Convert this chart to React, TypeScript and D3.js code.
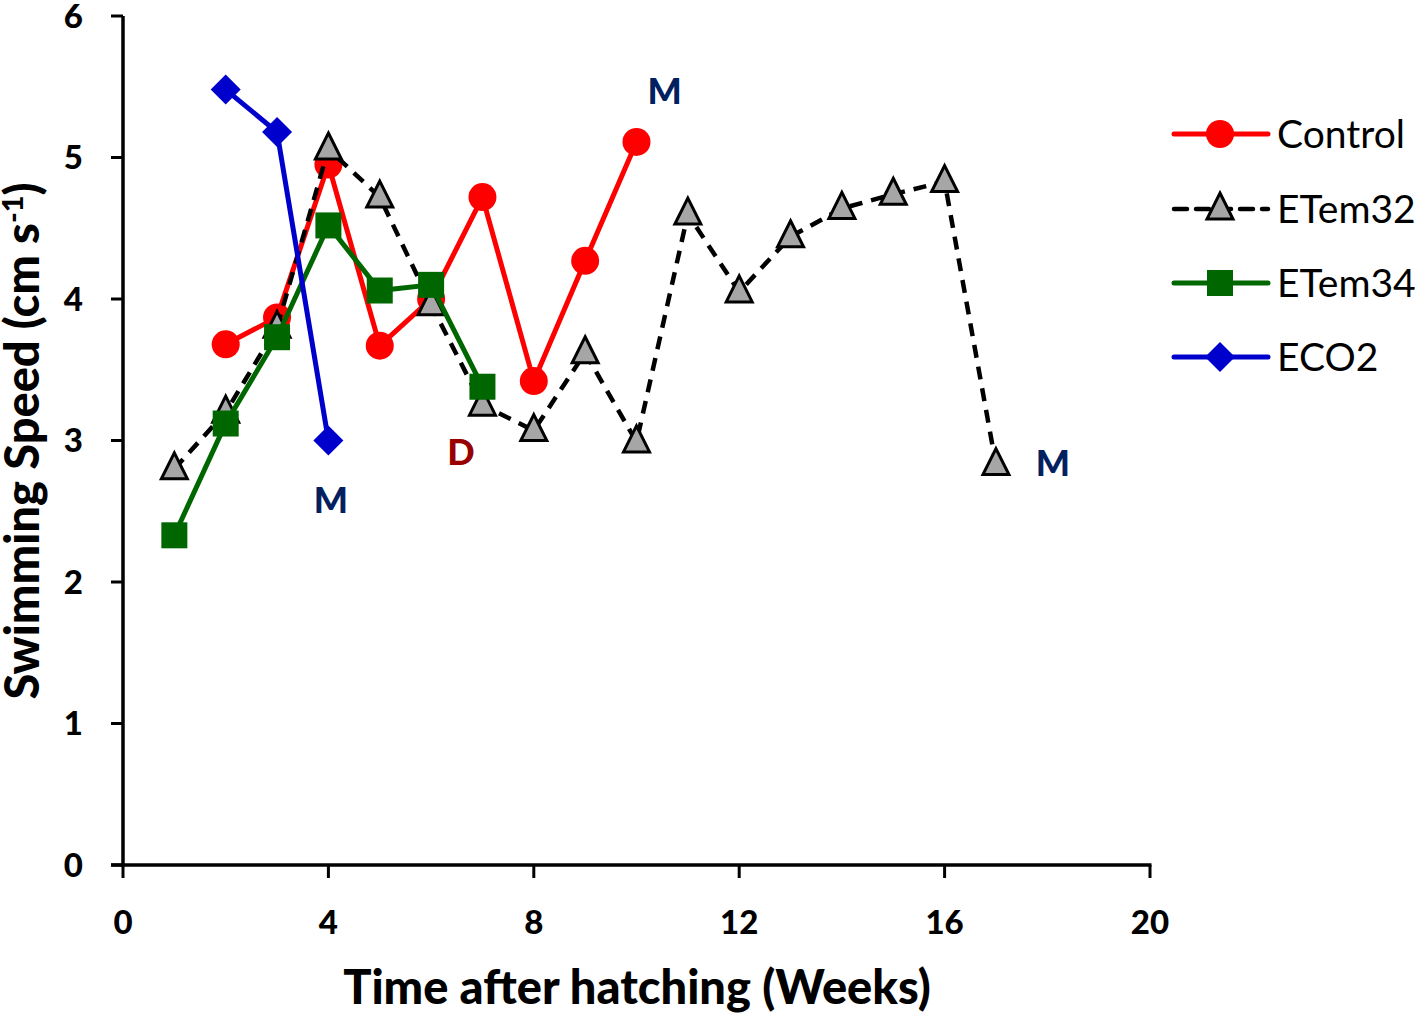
import React from "react";
import * as d3 from "d3";

const weeksControl = [2, 3, 4, 5, 6, 7, 8, 9, 10];
const speedControl = [3.68, 3.87, 4.95, 3.67, 4.0, 4.72, 3.42, 4.27, 5.11];
const weeksETem32 = [1, 2, 3, 4, 5, 6, 7, 8, 9, 10, 11, 12, 13, 14, 15, 16, 17];
const speedETem32 = [2.8, 3.2, 3.8, 5.06, 4.72, 3.96, 3.25, 3.07, 3.62, 2.99, 4.6, 4.05, 4.44, 4.64, 4.74, 4.83, 2.83];
const weeksETem34 = [1, 2, 3, 4, 5, 6, 7];
const speedETem34 = [2.33, 3.12, 3.73, 4.52, 4.06, 4.1, 3.38];
const weeksECO2 = [2, 3, 4];
const speedECO2 = [5.48, 5.18, 3.0];
const xTicks = [0, 4, 8, 12, 16, 20];
const yTicks = [0, 1, 2, 3, 4, 5, 6];
const annotations = [
  { text: "M", x: 4.05, y: 2.49, color: "#002060" },
  { text: "D", x: 6.58, y: 2.83, color: "#990000" },
  { text: "M", x: 10.55, y: 5.38, color: "#002060" },
  { text: "M", x: 18.11, y: 2.75, color: "#002060" },
];

const FONT = "Lato, 'Open Sans', sans-serif";

type Series = { name: string; xs: number[]; ys: number[]; color: string; marker: string; dash?: string };

const series: Series[] = [
  { name: "Control", xs: weeksControl, ys: speedControl, color: "#FF0000", marker: "circle" },
  { name: "ETem32", xs: weeksETem32, ys: speedETem32, color: "#000000", marker: "triangle", dash: "13,9" },
  { name: "ETem34", xs: weeksETem34, ys: speedETem34, color: "#006600", marker: "square" },
  { name: "ECO2", xs: weeksECO2, ys: speedECO2, color: "#0000CC", marker: "diamond" },
];

function Marker({ type, x, y }: { type: string; x: number; y: number }) {
  if (type === "circle") return <circle cx={x} cy={y} r={14} fill="#FF0000" />;
  if (type === "square") return <rect x={x - 13} y={y - 13} width={26} height={26} fill="#006600" />;
  if (type === "diamond")
    return <path d={`M${x},${y - 15}L${x + 15},${y}L${x},${y + 15}L${x - 15},${y}Z`} fill="#0000CC" />;
  return (
    <path
      d={`M${x},${y - 16}L${x + 13},${y + 10}L${x - 13},${y + 10}Z`}
      fill="#A6A6A6"
      stroke="#000"
      strokeWidth={3}
      strokeLinejoin="miter"
    />
  );
}

export default function App() {
  const W = 1418, H = 1015;
  const x = d3.scaleLinear().domain([0, 20]).range([123, 1150]);
  const y = d3.scaleLinear().domain([0, 6]).range([865, 16]);
  const line = d3.line<[number, number]>().x((d) => x(d[0])).y((d) => y(d[1]));

  const legendRows = [134, 209, 283, 357];

  return (
    <svg width={W} height={H} style={{ display: "block", position: "absolute", left: 0, top: 0 }}>
      <rect width={W} height={H} fill="#fff" />
      {/* axes */}
      <line x1={x(0)} x2={x(0)} y1={y(6)} y2={y(0) + 2} stroke="#000" strokeWidth={3.5} />
      <line x1={x(0) - 12} x2={x(20) + 1.5} y1={y(0)} y2={y(0)} stroke="#000" strokeWidth={3.5} />
      {yTicks.map((t) => (
        <g key={"y" + t}>
          <line x1={x(0) - 12} x2={x(0)} y1={y(t)} y2={y(t)} stroke="#000" strokeWidth={3} />
          <text x={x(0) - 40} y={y(t)} dy="0.36em" textAnchor="end" fontFamily={FONT} fontWeight={900} fontSize={33}>
            {t}
          </text>
        </g>
      ))}
      {xTicks.map((t) => (
        <g key={"x" + t}>
          <line x1={x(t)} x2={x(t)} y1={y(0)} y2={y(0) + 13} stroke="#000" strokeWidth={3} />
          <text x={x(t)} y={y(0) + 69} textAnchor="middle" fontFamily={FONT} fontWeight={900} fontSize={33}>
            {t}
          </text>
        </g>
      ))}
      <text x={637} y={1004} textAnchor="middle" fontFamily={FONT} fontWeight={900} fontSize={47}>
        Time after hatching (Weeks)
      </text>
      <text
        transform={`translate(39,441) rotate(-90)`}
        textAnchor="middle"
        fontFamily={FONT}
        fontWeight={900}
        fontSize={47}
      >
        Swimming Speed (cm s<tspan dy={-16} fontSize={29}>-1</tspan>
        <tspan dy={16}>)</tspan>
      </text>
      {/* series */}
      {series.map((s) => {
        const pts = s.xs.map((v, i) => [v, s.ys[i]] as [number, number]);
        return (
          <g key={s.name}>
            <path
              d={line(pts) || ""}
              fill="none"
              stroke={s.color}
              strokeWidth={s.dash ? 4.5 : 5}
              strokeDasharray={s.dash}
            />
            {pts.map((p, i) => (
              <Marker key={i} type={s.marker} x={x(p[0])} y={y(p[1])} />
            ))}
          </g>
        );
      })}
      {annotations.map((a, i) => (
        <text
          key={i}
          x={x(a.x)}
          y={y(a.y)}
          textAnchor="middle"
          fontFamily={FONT}
          fontWeight={900}
          fontSize={36}
          fill={a.color}
        >
          {a.text}
        </text>
      ))}
      {/* legend */}
      {series.map((s, i) => (
        <g key={"lg" + s.name}>
          <line
            x1={1174}
            x2={1268}
            y1={legendRows[i]}
            y2={legendRows[i]}
            stroke={s.color}
            strokeWidth={s.dash ? 4.5 : 5}
            strokeDasharray={s.dash}
            strokeLinecap="round"
          />
          <Marker type={s.marker} x={1220} y={legendRows[i]} />
          <text x={1277} y={legendRows[i]} dy="0.36em" fontFamily={FONT} fontSize={39} fill="#000">
            {s.name}
          </text>
        </g>
      ))}
    </svg>
  );
}
